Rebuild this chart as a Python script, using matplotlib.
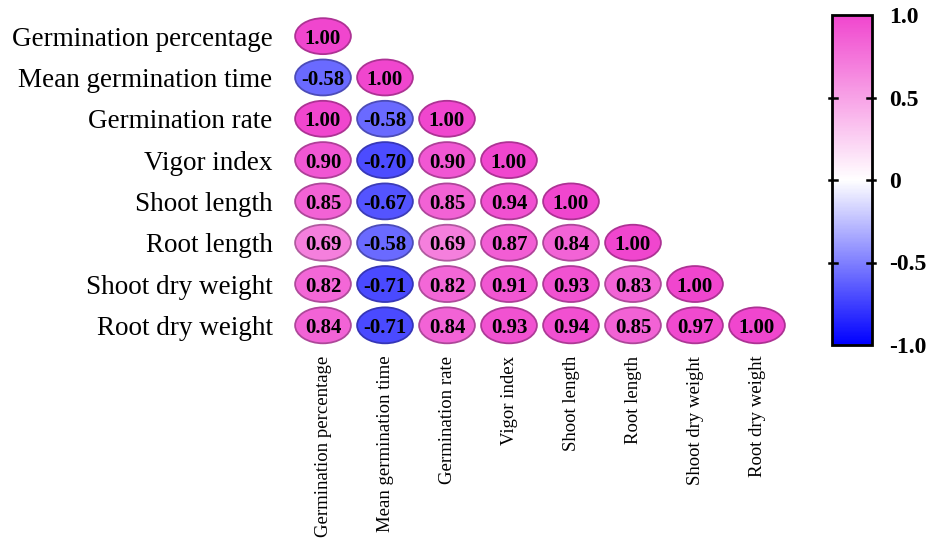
import numpy as np
import matplotlib.pyplot as plt
from matplotlib.patches import Ellipse
from matplotlib.colors import LinearSegmentedColormap, Normalize
from matplotlib.cm import ScalarMappable

plt.rcParams['font.family'] = ['Liberation Serif', 'DejaVu Serif']

traits = ["Germination percentage", "Mean germination time", "Germination rate",
          "Vigor index", "Shoot length", "Root length",
          "Shoot dry weight", "Root dry weight"]

# lower triangle of the correlation matrix, one row per trait
r_gp = [1.00]
r_mgt = [-0.58, 1.00]
r_gr = [1.00, -0.58, 1.00]
r_vi = [0.90, -0.70, 0.90, 1.00]
r_sl = [0.85, -0.67, 0.85, 0.94, 1.00]
r_rl = [0.69, -0.58, 0.69, 0.87, 0.84, 1.00]
r_sdw = [0.82, -0.71, 0.82, 0.91, 0.93, 0.83, 1.00]
r_rdw = [0.84, -0.71, 0.84, 0.93, 0.94, 0.85, 0.97, 1.00]
rows = [r_gp, r_mgt, r_gr, r_vi, r_sl, r_rl, r_sdw, r_rdw]

cbar_ticks = [-1.0, -0.5, 0, 0.5, 1.0]
cbar_labels = ["-1.0", "-0.5", "0", "0.5", "1.0"]

cmap = LinearSegmentedColormap.from_list("bwp", ["#0000FF", "#FFFFFF", "#F046CE"])
norm = Normalize(-1, 1)

W, H = 935, 538
fig = plt.figure(figsize=(W / 100, H / 100), dpi=100)

n = len(traits)
x0, x1 = 292, 788
y0, y1 = 15.5, 346
ax = fig.add_axes([x0 / W, 1 - y1 / H, (x1 - x0) / W, (y1 - y0) / H])
ax.set_xlim(-0.5, n - 0.5)
ax.set_ylim(n - 0.5, -0.5)

for i, row in enumerate(rows):
    for j, v in enumerate(row):
        c = np.array(cmap(norm(v)))
        edge = c.copy()
        edge[:3] *= 0.72
        ax.add_patch(Ellipse((j, i), 0.9, 0.87, facecolor=c, edgecolor=edge, lw=1.3))
        ax.text(j, i, f"{v:.2f}", ha="center", va="center_baseline",
                fontsize=15, fontweight="bold", color="black")

ax.set_xticks(range(n))
ax.set_yticks(range(n))
ax.set_xticklabels(traits, rotation=90, fontsize=13.5)
ax.set_yticklabels(traits, fontsize=19.5)
ax.tick_params(length=0)
ax.tick_params(axis="x", pad=7)
ax.tick_params(axis="y", pad=14)
for s in ax.spines.values():
    s.set_visible(False)

# colour bar
cax = fig.add_axes([832 / W, 1 - 345 / H, 40 / W, 330 / H])
cb = fig.colorbar(ScalarMappable(norm=norm, cmap=cmap), cax=cax, ticks=cbar_ticks)
cb.outline.set_linewidth(2)
cax.set_yticklabels(cbar_labels, fontsize=17, fontweight="bold")
cax.tick_params(length=0, pad=12)
for t in [-0.5, 0, 0.5]:
    cax.plot([-0.08, 0.12], [t, t], color="black", lw=1.8, clip_on=False,
             transform=cax.get_yaxis_transform())
    cax.plot([0.88, 1.08], [t, t], color="black", lw=1.8, clip_on=False,
             transform=cax.get_yaxis_transform())

fig.savefig("out.png", dpi=100)
